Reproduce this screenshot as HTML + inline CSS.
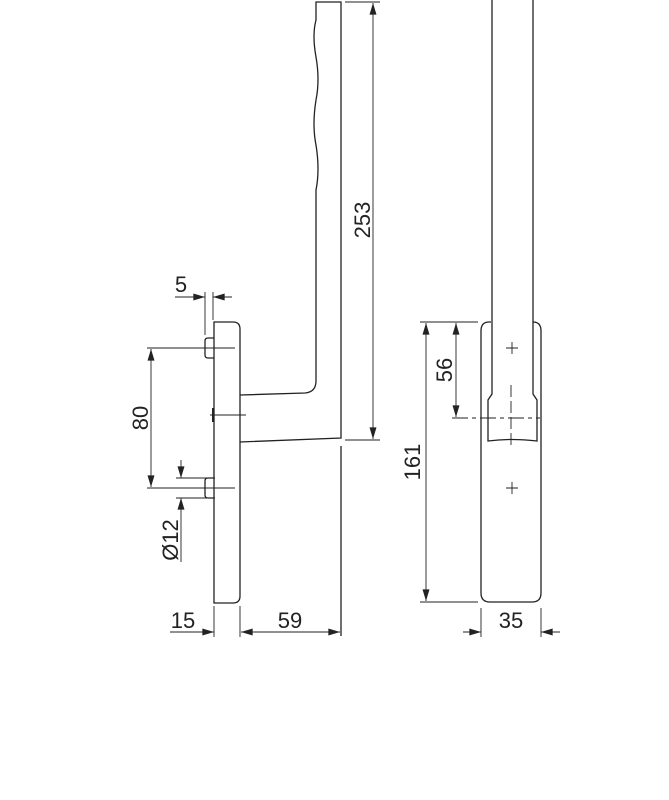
<!DOCTYPE html>
<html><head><style>html,body{margin:0;padding:0;background:#fff}svg{display:block}</style></head>
<body>
<svg width="669" height="800" viewBox="0 0 669 800" xmlns="http://www.w3.org/2000/svg">
<defs>
<marker id="a" viewBox="0 0 10 6" refX="10" refY="3" markerWidth="16" markerHeight="7" markerUnits="userSpaceOnUse" orient="auto"><path d="M0,0 L10,3 L0,6 z" fill="#222"/></marker>
</defs>
<g fill="none" stroke="#222" stroke-width="1.3">
<path d="M214,322 H233 Q240,322 240,329 V596 Q240,603 233,603 H214 Z"/>
<path d="M240,395 L305,393 Q316,392 316,381 V190 Q320,170 316,145 Q312,125 316,100 Q320,80 316,57 Q312,35 316,20 V2 H341 V438 L240,442"/>
<line x1="341" y1="446" x2="341" y2="636"/>
<path d="M214,338 H208 Q205,338 205,341 V355 Q205,358 208,358 H214"/>
<path d="M214,478 H208 Q205,478 205,481 V495 Q205,498 208,498 H214"/>
<line x1="213" y1="408" x2="213" y2="422" stroke-width="2"/>
</g>
<g fill="none" stroke="#222" stroke-width="0.9">
<line x1="210" y1="415" x2="246" y2="415"/>
<line x1="345" y1="2" x2="380" y2="2"/><line x1="345" y1="440" x2="380" y2="440"/>
<line x1="373" y1="220" x2="373" y2="3" marker-end="url(#a)"/>
<line x1="373" y1="220" x2="373" y2="439" marker-end="url(#a)"/>
<line x1="205" y1="292" x2="205" y2="335"/><line x1="213" y1="292" x2="213" y2="320"/>
<line x1="175" y1="297" x2="205" y2="297" marker-end="url(#a)"/>
<line x1="232" y1="297" x2="213" y2="297" marker-end="url(#a)"/>
<line x1="147" y1="348" x2="235" y2="348"/><line x1="147" y1="488" x2="235" y2="488"/>
<line x1="151" y1="418" x2="151" y2="349" marker-end="url(#a)"/>
<line x1="151" y1="418" x2="151" y2="487" marker-end="url(#a)"/>
<line x1="176" y1="478" x2="215" y2="478"/><line x1="176" y1="498" x2="215" y2="498"/>
<line x1="181" y1="460" x2="181" y2="478" marker-end="url(#a)"/>
<line x1="181" y1="562" x2="181" y2="498" marker-end="url(#a)"/>
<line x1="214" y1="606" x2="214" y2="637"/><line x1="240" y1="606" x2="240" y2="637"/>
<line x1="170" y1="632" x2="214" y2="632" marker-end="url(#a)"/>
<line x1="290" y1="632" x2="241" y2="632" marker-end="url(#a)"/>
<line x1="290" y1="632" x2="340" y2="632" marker-end="url(#a)"/>
</g>
<g fill="none" stroke="#222" stroke-width="1.3">
<path d="M491,322 H489 Q481,322 481,331 V593 Q481,602 490,602 H532 Q541,602 541,593 V331 Q541,322 533,322"/>
<path d="M492,0 V394 L488,400 V441 Q511,438 537,441 V400 L533,394 V0"/>
</g>
<g fill="none" stroke="#222" stroke-width="0.9">
<path d="M506,348 H518 M512,342 V354 M506,488 H518 M512,482 V494"/>
<path d="M511,385 V445" stroke-dasharray="12,4"/>
<path d="M452,418 H540" stroke-dasharray="16,4,4,4"/>
<line x1="420" y1="322" x2="478" y2="322"/><line x1="420" y1="602" x2="478" y2="602"/>
<line x1="426" y1="460" x2="426" y2="323" marker-end="url(#a)"/>
<line x1="426" y1="460" x2="426" y2="601" marker-end="url(#a)"/>
<line x1="456" y1="370" x2="456" y2="323" marker-end="url(#a)"/>
<line x1="456" y1="370" x2="456" y2="417" marker-end="url(#a)"/>
<line x1="481" y1="608" x2="481" y2="637"/><line x1="541" y1="608" x2="541" y2="637"/>
<line x1="463" y1="632" x2="481" y2="632" marker-end="url(#a)"/>
<line x1="560" y1="632" x2="541" y2="632" marker-end="url(#a)"/>
</g>
<g font-family="Liberation Sans, sans-serif" font-size="22" fill="#222" text-anchor="middle">
<text x="181" y="292">5</text>
<text x="183" y="628">15</text>
<text x="290" y="628">59</text>
<text x="511" y="628">35</text>
<text transform="translate(370,220) rotate(-90)">253</text>
<text transform="translate(148,418) rotate(-90)">80</text>
<text transform="translate(178,540) rotate(-90)">Ø12</text>
<text transform="translate(420,462) rotate(-90)">161</text>
<text transform="translate(452,370) rotate(-90)">56</text>
</g>
</svg>
</body></html>
